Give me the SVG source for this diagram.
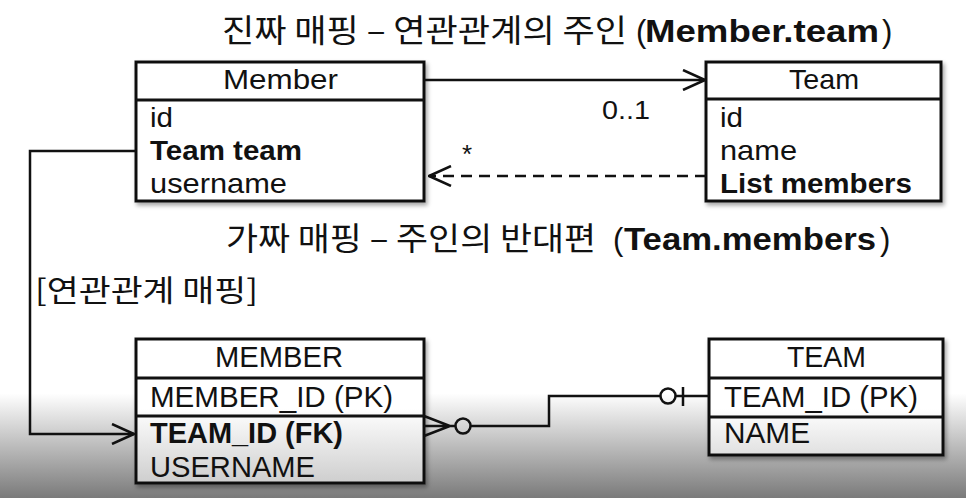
<svg xmlns="http://www.w3.org/2000/svg" width="966" height="498" viewBox="0 0 966 498">
<defs>
  <linearGradient id="bg" x1="0" y1="0" x2="0" y2="498" gradientUnits="userSpaceOnUse">
    <stop offset="0" stop-color="#ffffff"/>
    <stop offset="0.79" stop-color="#ffffff"/>
    <stop offset="1" stop-color="#7a7a7a"/>
  </linearGradient>
  <linearGradient id="boxfill" x1="0" y1="0" x2="0" y2="498" gradientUnits="userSpaceOnUse">
    <stop offset="0" stop-color="#ffffff"/>
    <stop offset="0.82" stop-color="#ffffff"/>
    <stop offset="1" stop-color="#c4c4c4"/>
  </linearGradient>
  <filter id="sh" x="-10%" y="-10%" width="120%" height="130%">
    <feDropShadow dx="2" dy="3" stdDeviation="2" flood-color="#000" flood-opacity="0.35"/>
  </filter>
  <marker id="open" viewBox="0 0 24 22" refX="23" refY="11" markerWidth="24" markerHeight="22" markerUnits="userSpaceOnUse" orient="auto">
    <path d="M1,1 L23,11 L1,21" fill="none" stroke="#111" stroke-width="2.5"/>
  </marker>
</defs>
<style>
  .box { fill: url(#boxfill); stroke: #111; stroke-width: 3; filter: url(#sh); }
  .div { stroke: #111; stroke-width: 3; }
  .t { font-family: "Liberation Sans", Arial, sans-serif; fill: #111; }
  .k { font-family: "Noto Sans CJK KR", "Liberation Sans", sans-serif; fill: #111; }
  .b { font-weight: bold; }
  .ln { fill: none; stroke: #111; stroke-width: 2.5; }
</style>
<rect x="0" y="0" width="966" height="498" fill="url(#bg)"/>

<g id="titles">
  <text class="k" x="222" y="42" font-size="32" textLength="405" lengthAdjust="spacingAndGlyphs">진짜 매핑 – 연관관계의 주인</text>
  <text class="t" x="636" y="42" font-size="31">(</text>
  <text class="t b" x="645" y="42" font-size="31" textLength="234" lengthAdjust="spacingAndGlyphs">Member.team</text>
  <text class="t" x="882" y="42" font-size="31">)</text>
  <text class="k" x="226" y="250" font-size="32" textLength="370" lengthAdjust="spacingAndGlyphs">가짜 매핑 – 주인의 반대편</text>
  <text class="t" x="613" y="250" font-size="31">(</text>
  <text class="t b" x="624" y="250" font-size="31" textLength="252" lengthAdjust="spacingAndGlyphs">Team.members</text>
  <text class="t" x="880" y="250" font-size="31">)</text>
  <text class="k" x="35" y="301" font-size="30" textLength="223" lengthAdjust="spacingAndGlyphs">[연관관계 매핑]</text>
</g>

<g id="Member">
  <rect class="box" x="136" y="62" width="288" height="139"/>
  <line class="div" x1="136" y1="100" x2="424" y2="100"/>
  <text class="t" x="223" y="89" font-size="28" textLength="115" lengthAdjust="spacingAndGlyphs">Member</text>
  <text class="t" x="150" y="127" font-size="28" textLength="23" lengthAdjust="spacingAndGlyphs">id</text>
  <text class="t b" x="150" y="160" font-size="28" textLength="152" lengthAdjust="spacingAndGlyphs">Team team</text>
  <text class="t" x="150" y="193" font-size="28" textLength="137" lengthAdjust="spacingAndGlyphs">username</text>
</g>

<g id="Team">
  <rect class="box" x="706" y="62" width="235" height="139"/>
  <line class="div" x1="706" y1="99" x2="941" y2="99"/>
  <text class="t" x="789" y="89" font-size="28" textLength="70" lengthAdjust="spacingAndGlyphs">Team</text>
  <text class="t" x="720" y="127" font-size="28" textLength="23" lengthAdjust="spacingAndGlyphs">id</text>
  <text class="t" x="720" y="160" font-size="28" textLength="77" lengthAdjust="spacingAndGlyphs">name</text>
  <text class="t b" x="720" y="193" font-size="28" textLength="192" lengthAdjust="spacingAndGlyphs">List members</text>
</g>

<g id="MEMBER">
  <rect class="box" x="136" y="339" width="288" height="144"/>
  <line class="div" x1="136" y1="378" x2="424" y2="378"/>
  <line class="div" x1="136" y1="416" x2="424" y2="416"/>
  <text class="t" x="215" y="367" font-size="30" textLength="128" lengthAdjust="spacingAndGlyphs">MEMBER</text>
  <text class="t" x="150" y="407" font-size="30" textLength="243" lengthAdjust="spacingAndGlyphs">MEMBER_ID (PK)</text>
  <text class="t b" x="150" y="443" font-size="30" textLength="193" lengthAdjust="spacingAndGlyphs">TEAM_ID (FK)</text>
  <text class="t" x="150" y="477" font-size="30" textLength="165" lengthAdjust="spacingAndGlyphs">USERNAME</text>
</g>

<g id="TEAM">
  <rect class="box" x="709" y="339" width="234" height="116"/>
  <line class="div" x1="709" y1="378" x2="943" y2="378"/>
  <line class="div" x1="709" y1="417" x2="943" y2="417"/>
  <text class="t" x="787" y="367" font-size="30" textLength="79" lengthAdjust="spacingAndGlyphs">TEAM</text>
  <text class="t" x="724" y="407" font-size="30" textLength="194" lengthAdjust="spacingAndGlyphs">TEAM_ID (PK)</text>
  <text class="t" x="724" y="443" font-size="30" textLength="86" lengthAdjust="spacingAndGlyphs">NAME</text>
</g>

<g id="connectors">
  <line class="ln" x1="424" y1="80" x2="705" y2="80" marker-end="url(#open)"/>
  <text class="t" x="602" y="119" font-size="26" textLength="48" lengthAdjust="spacingAndGlyphs">0..1</text>
  <line class="ln" x1="706" y1="176" x2="429" y2="176" stroke-dasharray="11 7" marker-end="url(#open)"/>
  <text class="t" x="462" y="163" font-size="26">*</text>
  <polyline class="ln" points="136,151 30,151 30,434 134,434" marker-end="url(#open)"/>
  <path class="ln" d="M424,416 L450,426 L424,436 M424,426 L456,426"/>
  <circle class="ln" cx="463" cy="426" r="7.5" fill="#fff"/>
  <polyline class="ln" points="470.5,426 549,426 549,396 660.5,396"/>
  <circle class="ln" cx="668" cy="396" r="7.5" fill="#fff"/>
  <line class="ln" x1="675.5" y1="396" x2="709" y2="396"/>
  <line class="ln" x1="683" y1="387" x2="683" y2="406"/>
</g>
</svg>
